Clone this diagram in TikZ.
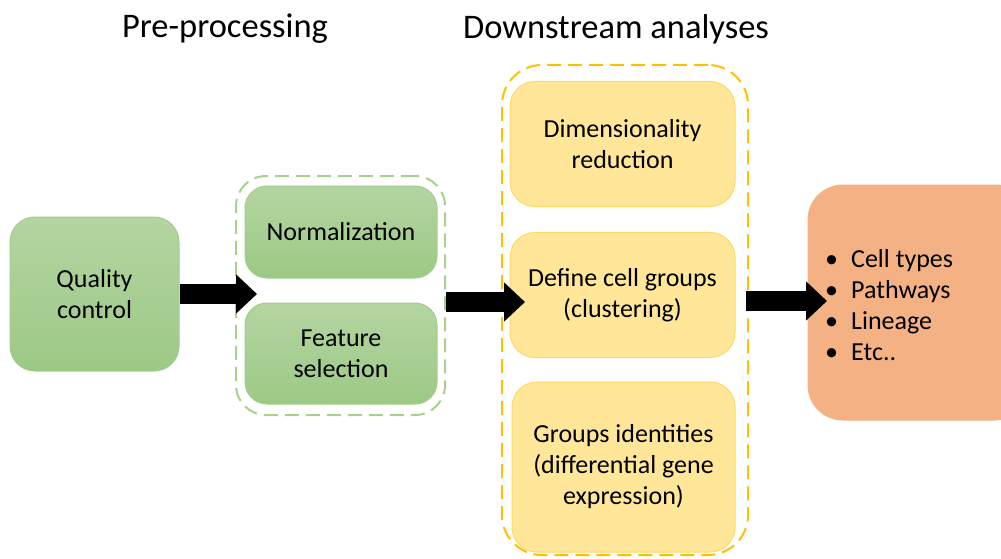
\documentclass[tikz,border=0pt]{standalone}
\usepackage{fontspec}
\setmainfont{Carlito}
\usetikzlibrary{arrows.meta}
\definecolor{gtop}{HTML}{B4D5A2}
\definecolor{gbot}{HTML}{9CC985}
\definecolor{gline}{HTML}{A3CD8A}
\definecolor{gdash}{HTML}{A9D18E}
\definecolor{yfill}{HTML}{FFE699}
\definecolor{yline}{HTML}{FFD966}
\definecolor{ydash}{HTML}{FFC000}
\definecolor{ofill}{HTML}{F4B183}
\definecolor{oline}{HTML}{F4B183}
\newcommand{\bodyfnt}{\fontsize{26}{31}\selectfont}
\newcommand{\titlefnt}{\fontsize{34.5}{40}\selectfont}
\tikzset{
  greenbox/.style={draw=gline, line width=1pt, top color=gtop, bottom color=gbot,
    rounded corners=22pt, align=center, font=\bodyfnt, inner sep=0pt},
  yellowbox/.style={draw=yline, line width=1pt, fill=yfill,
    rounded corners=25pt, align=center, font=\bodyfnt, inner sep=0pt},
  groupbox/.style={line width=2pt, dash pattern=on 14pt off 7pt, inner sep=0pt},
  blockarrow/.style={line width=20pt, -{Triangle[length=21pt,width=38pt]}},
  titletext/.style={font=\titlefnt, inner sep=0pt}
}
\begin{document}
\begin{tikzpicture}[x=1pt,y=-1pt]
\useasboundingbox (0,0) rectangle (1001,559);
% titles
\node[titletext] (tpre) at (225,29) {Pre-processing};
\node[titletext] (tdown) at (616,29) {Downstream analyses};
% group boxes
\node[groupbox, draw=gdash, rounded corners=30pt, minimum width=209pt, minimum height=239pt] (pre) at (340.5,295.5) {};
\node[groupbox, draw=ydash, rounded corners=40pt, minimum width=246pt, minimum height=490pt] (down) at (625,310) {};
% boxes
\node[greenbox, rounded corners=25pt, minimum width=169pt, minimum height=154pt] (qc) at (94.5,294) {Quality\\control};
\node[greenbox, minimum width=192pt, minimum height=92pt] (norm) at (341,232) {Normalization};
\node[greenbox, minimum width=192pt, minimum height=101pt] (feat) at (341,353.5) {Feature\\selection};
\node[yellowbox, minimum width=225pt, minimum height=125pt] (dim) at (622.5,144) {Dimensionality\\reduction};
\node[yellowbox, minimum width=225pt, minimum height=125pt] (def) at (622.5,295) {Define cell groups\\(clustering)};
\node[yellowbox, minimum width=223pt, minimum height=170pt] (grp) at (623.5,467) {Groups identities\\(differential gene\\expression)};
\node[draw=oline, line width=1pt, fill=ofill, rounded corners=35pt, minimum width=222pt, minimum height=235pt, inner sep=0pt] (out) at (919,302.5) {};
\node[anchor=west, align=left, font=\bodyfnt, inner sep=0pt] (list) at (825,305)
  {\makebox[26pt][l]{\textbullet}Cell types\\
   \makebox[26pt][l]{\textbullet}Pathways\\
   \makebox[26pt][l]{\textbullet}Lineage\\
   \makebox[26pt][l]{\textbullet}Etc..};
% arrows
\coordinate (t1) at (257,294);
\coordinate (t2) at (525,302);
\coordinate (t3) at (827,301);
\draw[blockarrow] (qc.east) -- (t1);
\draw[blockarrow] (pre.east |- t2) -- (t2);
\draw[blockarrow] ([xshift=-3pt]down.east |- t3) -- (t3);
\end{tikzpicture}
\end{document}
